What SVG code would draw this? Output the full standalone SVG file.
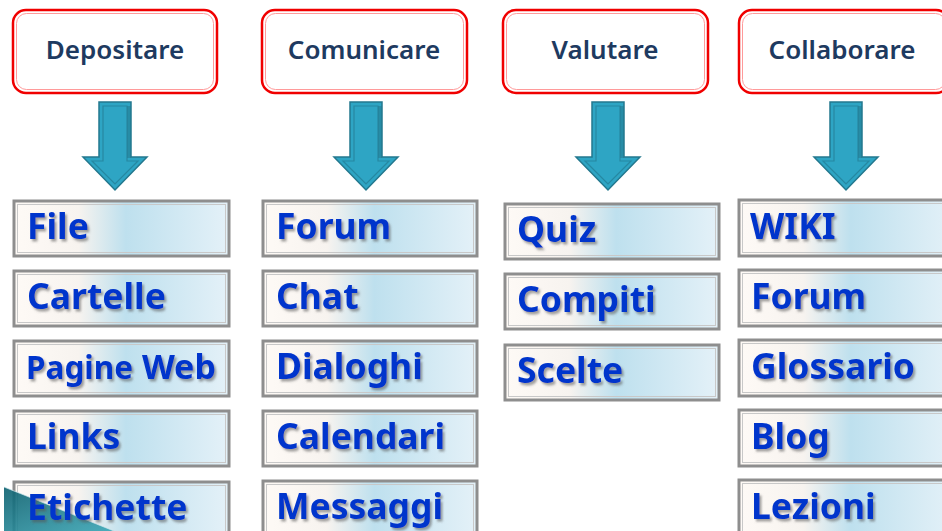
<svg xmlns="http://www.w3.org/2000/svg" width="942" height="531" viewBox="0 0 942 531">
<defs>
<linearGradient id="itemFill" x1="0" y1="0" x2="1" y2="0">
<stop offset="0" stop-color="#FEFAF6"/>
<stop offset="0.3" stop-color="#F7F3EF"/>
<stop offset="0.52" stop-color="#BEE0EE"/>
<stop offset="1" stop-color="#E4F1F8"/>
</linearGradient>
<linearGradient id="tealG" x1="0" y1="0" x2="1" y2="1">
<stop offset="0" stop-color="#0B5F6E"/>
<stop offset="1" stop-color="#3AA6B6"/>
</linearGradient>
<filter id="shadow" x="-10%" y="-20%" width="130%" height="150%">
<feDropShadow dx="2" dy="2.5" stdDeviation="1.2" flood-color="#555" flood-opacity="0.55"/>
</filter>
<symbol id="arrow" viewBox="-34 0 68 92" overflow="visible">
<path d="M-16,0 H16 V55 H32 L0,88 L-32,55 H-16 Z" fill="#2EA5C4" stroke="#23788E" stroke-width="1.5" stroke-linejoin="miter"/>
<path d="M-12,4 H12 V59 H23 L0,82 L-23,59 H-12 Z" fill="none" stroke="#1E6C80" stroke-width="1.2" opacity="0.5"/>
<rect x="12" y="4" width="4" height="52" fill="#23788E" opacity="0.55"/>
</symbol>
</defs>
<style>
.hdr-o{fill:#FFFFFF;stroke:#F00000;stroke-width:2.5}
.hdr-i{fill:none;stroke:#FF9A9A;stroke-width:1}
.hdr-t{font-family:"Noto Sans","Liberation Sans",sans-serif;font-weight:600;font-size:26px;fill:#1E3A60;text-anchor:middle}
.item-o{fill:url(#itemFill);stroke:#8E8E8E;stroke-width:3}
.item-i{fill:none;stroke:#C8C8C8;stroke-width:1}
.item-t{font-family:"Noto Sans","Liberation Sans",sans-serif;font-weight:bold;font-size:35.5px;fill:#0035CC;filter:url(#shadow)}
</style>
<rect x="0" y="0" width="942" height="531" fill="#FFFFFF"/>

<!-- headers -->
<g id="h-depositare"><rect class="hdr-o" x="13" y="10" width="204" height="83" rx="13"/><rect class="hdr-i" x="16.5" y="13.5" width="197" height="76" rx="10"/><text class="hdr-t" x="115" y="59">Depositare</text></g>
<g id="h-comunicare"><rect class="hdr-o" x="262" y="10" width="205" height="83" rx="13"/><rect class="hdr-i" x="265.5" y="13.5" width="198" height="76" rx="10"/><text class="hdr-t" x="364" y="59">Comunicare</text></g>
<g id="h-valutare"><rect class="hdr-o" x="503" y="10" width="205" height="83" rx="13"/><rect class="hdr-i" x="506.5" y="13.5" width="198" height="76" rx="10"/><text class="hdr-t" x="605" y="59">Valutare</text></g>
<g id="h-collaborare"><rect class="hdr-o" x="739" y="10" width="210" height="83" rx="13"/><rect class="hdr-i" x="742.5" y="13.5" width="203" height="76" rx="10"/><text class="hdr-t" x="842" y="59">Collaborare</text></g>

<!-- connectors -->
<g id="connectors">
<use href="#arrow" x="81" y="102" width="68" height="92"/>
<use href="#arrow" x="332" y="102" width="68" height="92"/>
<use href="#arrow" x="574" y="102" width="68" height="92"/>
<use href="#arrow" x="812" y="102" width="68" height="92"/>
</g>

<!-- column 1 -->
<g id="n-file"><rect class="item-o" x="14" y="201" width="215" height="55"/><rect class="item-i" x="17.5" y="204.5" width="208" height="48"/><text class="item-t" x="27" y="239">File</text></g>
<g id="n-cartelle"><rect class="item-o" x="14" y="271" width="215" height="55"/><rect class="item-i" x="17.5" y="274.5" width="208" height="48"/><text class="item-t" x="27" y="309">Cartelle</text></g>
<g id="n-pagineweb"><rect class="item-o" x="14" y="341" width="215" height="55"/><rect class="item-i" x="17.5" y="344.5" width="208" height="48"/><text class="item-t" x="26" y="379"><tspan font-size="31.5">Pagine</tspan><tspan font-size="34"> Web</tspan></text></g>
<g id="n-links"><rect class="item-o" x="14" y="411" width="215" height="55"/><rect class="item-i" x="17.5" y="414.5" width="208" height="48"/><text class="item-t" x="27" y="449">Links</text></g>
<g id="n-etichette"><rect class="item-o" x="14" y="482" width="215" height="60"/><rect class="item-i" x="17.5" y="485.5" width="208" height="53"/>
<polygon points="4,487 114,531 4,531" fill="url(#tealG)" opacity="0.9"/>
<line x1="4" y1="487" x2="114" y2="531" stroke="#CFE8EE" stroke-width="1" opacity="0.7"/>
<text class="item-t" x="27" y="520">Etichette</text></g>

<!-- column 2 -->
<g id="n-forum1"><rect class="item-o" x="263" y="201" width="214" height="55"/><rect class="item-i" x="266.5" y="204.5" width="207" height="48"/><text class="item-t" x="276" y="239">Forum</text></g>
<g id="n-chat"><rect class="item-o" x="263" y="271" width="214" height="55"/><rect class="item-i" x="266.5" y="274.5" width="207" height="48"/><text class="item-t" x="276" y="309">Chat</text></g>
<g id="n-dialoghi"><rect class="item-o" x="263" y="341" width="214" height="55"/><rect class="item-i" x="266.5" y="344.5" width="207" height="48"/><text class="item-t" x="276" y="379">Dialoghi</text></g>
<g id="n-calendari"><rect class="item-o" x="263" y="411" width="214" height="55"/><rect class="item-i" x="266.5" y="414.5" width="207" height="48"/><text class="item-t" x="276" y="449">Calendari</text></g>
<g id="n-messaggi"><rect class="item-o" x="263" y="481" width="214" height="60"/><rect class="item-i" x="266.5" y="484.5" width="207" height="53"/><text class="item-t" x="276" y="519">Messaggi</text></g>

<!-- column 3 -->
<g id="n-quiz"><rect class="item-o" x="505" y="204" width="214" height="55"/><rect class="item-i" x="508.5" y="207.5" width="207" height="48"/><text class="item-t" x="517" y="242">Quiz</text></g>
<g id="n-compiti"><rect class="item-o" x="505" y="274" width="214" height="55"/><rect class="item-i" x="508.5" y="277.5" width="207" height="48"/><text class="item-t" x="517" y="312">Compiti</text></g>
<g id="n-scelte"><rect class="item-o" x="505" y="345" width="214" height="55"/><rect class="item-i" x="508.5" y="348.5" width="207" height="48"/><text class="item-t" x="517" y="383">Scelte</text></g>

<!-- column 4 -->
<g id="n-wiki"><rect class="item-o" x="739" y="200" width="215" height="56"/><rect class="item-i" x="742.5" y="203.5" width="208" height="49"/><text class="item-t" x="750" y="239">WIKI</text></g>
<g id="n-forum2"><rect class="item-o" x="739" y="270" width="215" height="56"/><rect class="item-i" x="742.5" y="273.5" width="208" height="49"/><text class="item-t" x="751" y="309">Forum</text></g>
<g id="n-glossario"><rect class="item-o" x="739" y="340" width="215" height="56"/><rect class="item-i" x="742.5" y="343.5" width="208" height="49"/><text class="item-t" x="751" y="379">Glossario</text></g>
<g id="n-blog"><rect class="item-o" x="739" y="410" width="215" height="56"/><rect class="item-i" x="742.5" y="413.5" width="208" height="49"/><text class="item-t" x="751" y="449">Blog</text></g>
<g id="n-lezioni"><rect class="item-o" x="739" y="480" width="215" height="60"/><rect class="item-i" x="742.5" y="483.5" width="208" height="53"/><text class="item-t" x="751" y="519">Lezioni</text></g>
</svg>
